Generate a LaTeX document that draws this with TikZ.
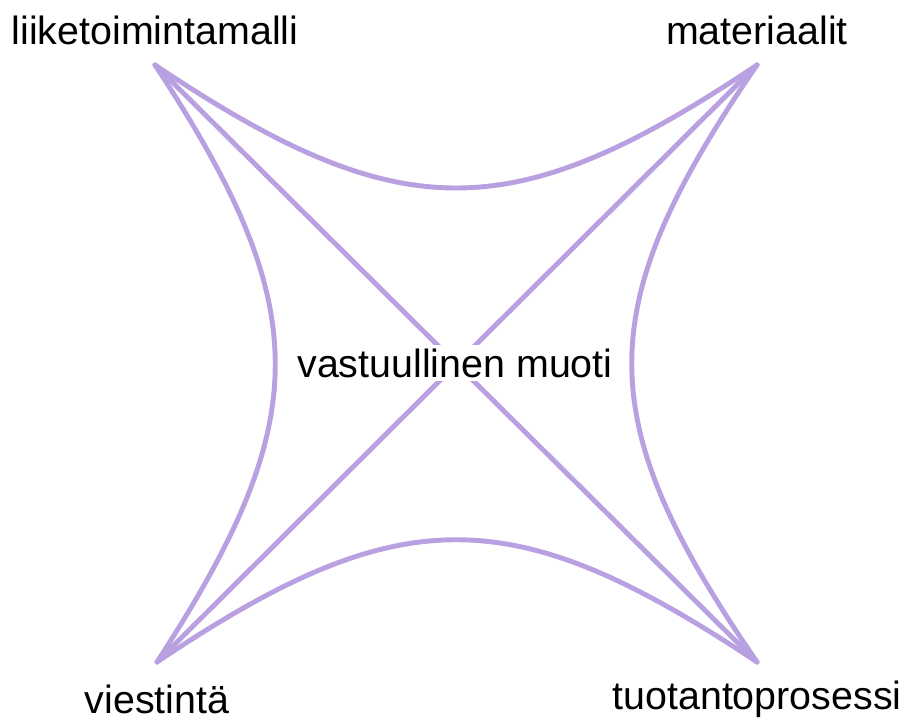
\documentclass[tikz,border=0pt]{standalone}
\usepackage{fontspec}
\setmainfont{Liberation Sans}
\usepackage{tikz}
\definecolor{lila}{HTML}{B9A0E0}

\begin{document}
\begin{tikzpicture}[x=0.01cm, y=-0.01cm, every node/.style={font=\fontsize{11.2}{13}\selectfont}, kaari/.style={draw=lila, line width=1.4pt, line cap=round}]
            \useasboundingbox (0,0) rectangle (904,722);
            % kulmat
            \coordinate (lt) at (155,65);
            \coordinate (rt) at (757,65);
            \coordinate (lb) at (157,662);
            \coordinate (rb) at (757,662);
            \node (liike) at (155,30) {liiketoimintamalli};
            \node (mat) at (757,30) {materiaalit};
            \node (vies) at (157,699) {viestintä};
            \node (tuot) at (757,699) {tuotantoprosessi};
            % kaaret
            \draw[kaari] (lt) .. controls (400,229) and (512,229) .. (rt);
            \draw[kaari] (lb) .. controls (400,499) and (512,499) .. (rb);
            \draw[kaari] (lt) .. controls (315,308) and (315,419) .. (lb);
            \draw[kaari] (rt) .. controls (590,308) and (590,419) .. (rb);
            \draw[kaari] (lt) -- (rb);
            \draw[kaari] (rt) -- (lb);
            \node[fill=white, inner sep=1pt] (muoti) at (455,363) {vastuullinen muoti};
        \end{tikzpicture}
\end{document}
